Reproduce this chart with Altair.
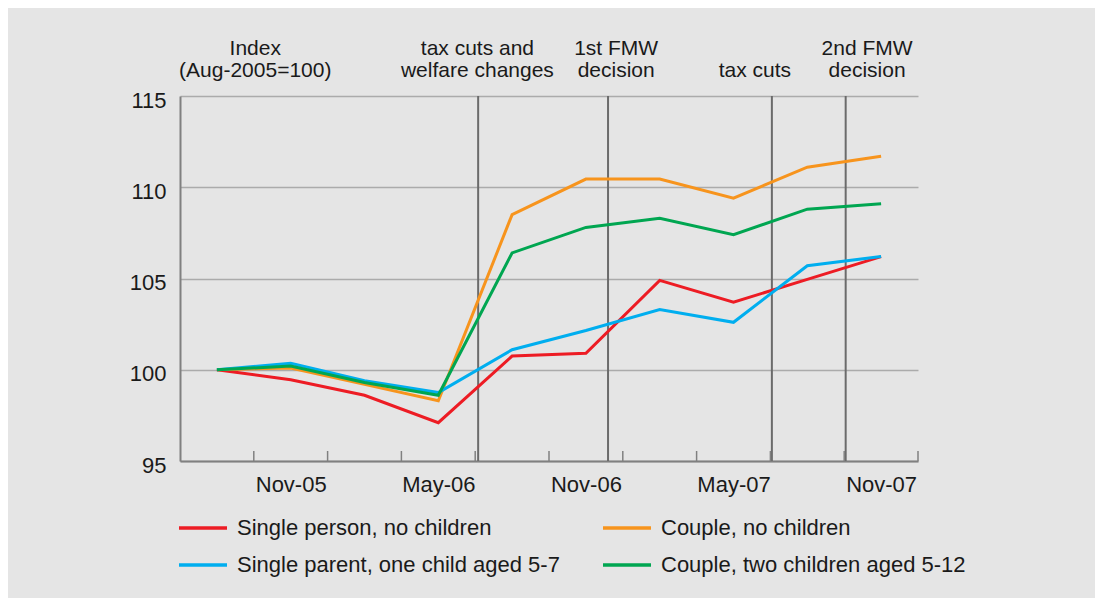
import altair as alt
import pandas as pd

# ---- data ----
months = ["Aug-05", "Nov-05", "Feb-06", "May-06", "Aug-06",
          "Nov-06", "Feb-07", "May-07", "Aug-07", "Nov-07"]
series_names = ["Single person, no children",
                "Couple, no children",
                "Single parent, one child aged 5-7",
                "Couple, two children aged 5-12"]
single_person = [100, 99.45, 98.6, 97.1, 100.75, 100.9, 104.9, 103.7, 104.95, 106.2]
couple_no_children = [100, 100.1, 99.2, 98.3, 108.5, 110.45, 110.45, 109.4, 111.1, 111.7]
single_parent = [100, 100.35, 99.4, 98.75, 101.1, 102.15, 103.3, 102.6, 105.7, 106.2]
couple_two_children = [100, 100.2, 99.3, 98.6, 106.4, 107.8, 108.3, 107.4, 108.8, 109.1]
series_colors = ["#ed1c24", "#f7941d", "#00aeef", "#00a651"]

label_positions = [1, 3, 5, 7, 9]
tick_boundaries = [0.5, 1.5, 2.5, 3.5, 4.5, 5.5, 6.5, 7.5, 8.5, 9.5]
y_ticks = [95, 100, 105, 110, 115]

event_x = [3.54, 5.30, 7.52, 8.52]
note_x = [0.52, 3.53, 5.41, 7.29, 8.81]
note_line1 = ["Index", "tax cuts and", "1st FMW", "", "2nd FMW"]
note_line2 = ["(Aug-2005=100)", "welfare changes", "decision", "tax cuts", "decision"]

# ---- tables ----
rows = []
for name, vals in zip(series_names, [single_person, couple_no_children,
                                     single_parent, couple_two_children]):
    for i, v in enumerate(vals):
        rows.append({"idx": i, "value": v, "series": name})
lines_df = pd.DataFrame(rows)
events_df = pd.DataFrame({"idx": event_x})
ticks_df = pd.DataFrame({"idx": tick_boundaries})
notes_df = pd.DataFrame({"idx": note_x, "l1": note_line1, "l2": note_line2})

FONT = "Liberation Sans"
W, H = 738, 365
xscale = alt.Scale(domain=[-0.5, 9.5], nice=False, zero=False)

label_expr = " : ".join(
    "datum.value == %d ? '%s'" % (i, m) for i, m in enumerate(months)
) + " : ''"

x_axis = alt.Axis(values=label_positions, labelExpr=label_expr,
                  ticks=False, grid=False, domain=True,
                  domainColor="#808080", domainWidth=2,
                  labelFont=FONT, labelFontSize=22, labelColor="#1a1a1a",
                  labelPadding=13, labelOverlap=False)
X = alt.X("idx:Q", scale=xscale, title=None, axis=x_axis)

lines = alt.Chart(lines_df).mark_line(strokeWidth=3).encode(
    x=X,
    y=alt.Y("value:Q", scale=alt.Scale(domain=[95, 115], nice=False, zero=False),
            title=None,
            axis=alt.Axis(values=y_ticks, ticks=False, grid=True,
                          gridColor="#ababab", gridWidth=1.5,
                          domain=True, domainColor="#808080", domainWidth=2,
                          labelFont=FONT, labelFontSize=22, labelColor="#1a1a1a",
                          labelPadding=14, labelOffset=4)),
    color=alt.Color("series:N",
                    scale=alt.Scale(domain=series_names, range=series_colors),
                    legend=alt.Legend(orient="none", legendX=-3, legendY=406,
                                      columns=2, direction="horizontal", title=None,
                                      symbolType="stroke", symbolSize=2304,
                                      symbolStrokeWidth=3.5,
                                      labelFont=FONT, labelFontSize=22,
                                      labelColor="#1a1a1a", labelLimit=500,
                                      labelOffset=8, columnPadding=36,
                                      rowPadding=-14)),
    order="idx:Q",
)

events = alt.Chart(events_df).mark_rule(color="#6b6b6b", strokeWidth=2).encode(
    x=X
)

ticks = alt.Chart(ticks_df).mark_rule(color="#808080", strokeWidth=1.5).encode(
    x=X,
    y=alt.value(H - 10), y2=alt.value(H),
)

note1 = alt.Chart(notes_df).mark_text(font=FONT, fontSize=21, color="#1a1a1a",
                                      align="center", baseline="alphabetic").encode(
    x=X,
    y=alt.value(-41),
    text="l1:N",
)
note2 = alt.Chart(notes_df).mark_text(font=FONT, fontSize=21, color="#1a1a1a",
                                      align="center", baseline="alphabetic").encode(
    x=X,
    y=alt.value(-19.5),
    text="l2:N",
)

chart = alt.layer(events, ticks, lines, note1, note2).properties(
    width=W, height=H,
    autosize=alt.AutoSizeParams(type="none"),
    padding={"left": 172, "top": 88, "right": 177, "bottom": 137},
    background="#e5e5e5",
).configure_view(stroke=None)

chart.save("out.html", embed_options={"renderer": "svg", "actions": False})
